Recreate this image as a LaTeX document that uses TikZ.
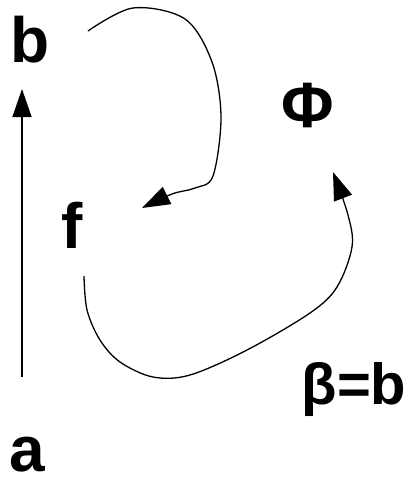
\documentclass[tikz,border=0pt]{standalone}
\usepackage{fontspec}
\setmainfont{Liberation Sans}
\usetikzlibrary{arrows.meta}
\begin{document}
\begin{tikzpicture}[x=1pt,y=-1pt,
  lbl/.style={inner sep=0pt,anchor=base,font=\fontsize{64}{64}\bfseries\selectfont},
  lblsmall/.style={inner sep=0pt,anchor=base,font=\fontsize{58}{58}\bfseries\selectfont},
  conn/.style={line width=1.3pt,-{Triangle[length=28pt,width=19pt]}}]
\useasboundingbox (0,0) rectangle (411,480);
\node[lbl] (b) at (30,62) {b};
\node[lbl] (a) at (27,471) {a};
\node[lbl] (f) at (72,248) {f};
\node[lbl,anchor=center] (phi) at (308,105) {Φ};
\node[lblsmall] (beta) at (354,404) {β=b};
\coordinate (a1) at (22,377);
\coordinate (b1) at (22,89);
\coordinate (s1) at (88,31);
\coordinate (e1) at (142,208);
\coordinate (s2) at (84,276);
\coordinate (e2) at (333,172);
\draw[conn,line width=1.6pt] (a1) -- (b1);
\draw[conn] plot[smooth,tension=0.55] coordinates {(s1) (133,8) (185,19) (212,62) (221,117) (213,176) (195,188) (172,194) (e1)};
\draw[conn] plot[smooth,tension=0.55] coordinates {(s2) (87,310) (100,340) (120,362) (153,377) (190,375) (247,350) (310,313) (337,287) (352,247) (348,215) (e2)};
\end{tikzpicture}
\end{document}
